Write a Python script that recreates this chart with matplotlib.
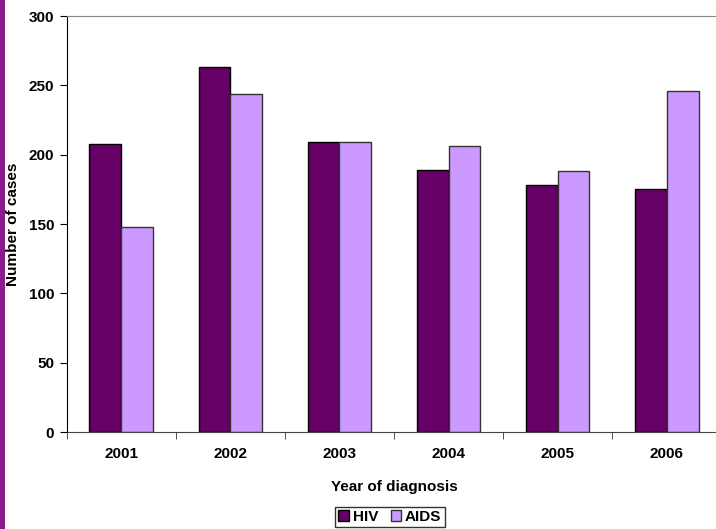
import numpy as np
import matplotlib

matplotlib.use("Agg")
import matplotlib.pyplot as plt
from matplotlib.patches import Rectangle

plt.rcParams["font.family"] = ["Liberation Sans", "DejaVu Sans"]
plt.rcParams["font.weight"] = "bold"

years = ["2001", "2002", "2003", "2004", "2005", "2006"]
hiv = [208, 263, 209, 189, 178, 175]
aids = [148, 244, 209, 206, 188, 246]

HIV_COLOR = "#660066"
AIDS_COLOR = "#cc99ff"
FS = 11

fig = plt.figure(figsize=(7.16, 5.29), dpi=100)
# left purple strip
fig.patches.append(Rectangle((0, 0), 5 / 716, 1, transform=fig.transFigure,
                             facecolor="#8b1a8b", edgecolor="none"))

ax = fig.add_axes([66.5 / 716, 1 - 432 / 529, 655 / 716, 416 / 529])
x = np.arange(len(years))
w = 0.29
ax.bar(x - w / 2, hiv, w, color=HIV_COLOR, edgecolor="black", linewidth=1, label="HIV")
ax.bar(x + w / 2, aids, w, color=AIDS_COLOR, edgecolor="#333333", linewidth=1, label="AIDS")

ax.set_xlim(-0.5, len(years) - 0.5)
ax.set_ylim(0, 300)
ax.set_yticks(range(0, 301, 50))
ax.set_xticks(x)
ax.set_xticklabels(years, fontsize=FS, fontweight="bold")
ax.set_xticks(np.arange(-0.5, len(years), 1.0), minor=True)
ax.tick_params(axis="x", which="major", length=0, pad=11)
ax.tick_params(axis="x", which="minor", length=5, direction="out", color="#333333")
ax.tick_params(axis="y", length=5, direction="out", labelsize=FS, pad=4)
for lab in ax.get_yticklabels():
    lab.set_fontweight("bold")

ax.spines["right"].set_visible(False)
ax.spines["top"].set_color("#888888")
ax.spines["bottom"].set_color("#444444")
ax.spines["left"].set_color("black")

fig.text(394 / 716, 1 - 487 / 529, "Year of diagnosis", fontsize=FS,
         fontweight="bold", ha="center", va="center")
ax.set_ylabel("Number of cases", fontsize=FS, fontweight="bold", labelpad=6)

ax.legend(loc="center", bbox_to_anchor=(390 / 716, 1 - 517 / 529),
          bbox_transform=fig.transFigure, ncol=2, frameon=True, fancybox=False,
          edgecolor="black", prop={"weight": "bold", "size": FS},
          handlelength=0.7, handleheight=0.7, handletextpad=0.25, columnspacing=0.8,
          borderpad=0.2, borderaxespad=0)

fig.savefig("out.png", dpi=100)
